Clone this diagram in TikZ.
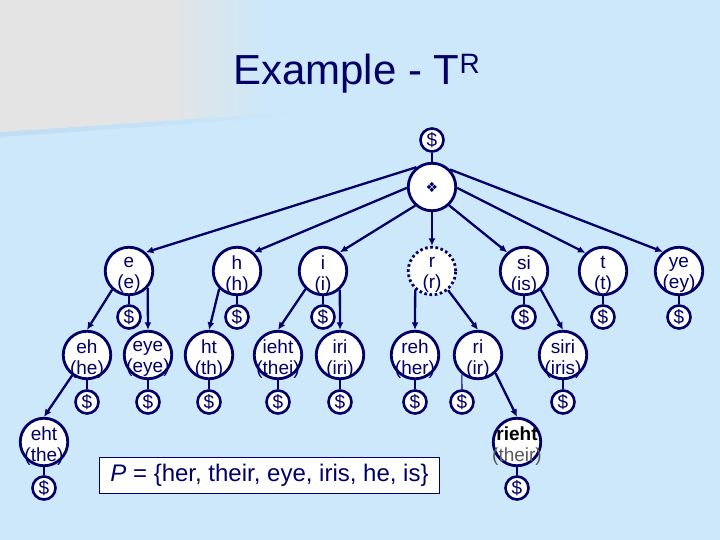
\documentclass[tikz,border=0pt]{standalone}
\usepackage{fontspec}
\setmainfont{Liberation Sans}
\newfontfamily\symfont{DejaVu Sans}
\usetikzlibrary{arrows.meta}
\definecolor{bg}{RGB}{204,232,250}
\definecolor{topgray}{RGB}{228,228,228}
\definecolor{navy}{RGB}{0,0,102}
\definecolor{bandblue}{RGB}{190,220,243}
\definecolor{midgray}{RGB}{90,90,90}
\begin{document}
\begin{tikzpicture}[x=1pt,y=-1pt,
  tnode/.style={circle,draw=navy,fill=white,line width=2.8pt,minimum size=47.5pt,inner sep=0pt},
  dnode/.style={circle,draw=navy,fill=white,line width=2.6pt,minimum size=23pt,inner sep=0pt,text=navy,font=\fontsize{19}{19}\selectfont},
  lbl/.style={text=navy,align=center,font=\fontsize{19}{21}\selectfont,inner sep=0pt,yshift=-4pt},
  edge/.style={draw=navy,line width=2.3pt,-{Latex[length=7.5pt,width=7pt]}},
  dline/.style={draw=navy,line width=1.1pt},
]
\useasboundingbox (0,0) rectangle (720,540);
% background
\fill[bg] (0,0) rectangle (720,540);
\shade[left color=bandblue,right color=bg] (0,132) -- (300,111.6) -- (300,116) -- (0,137) -- cycle;
\fill[topgray] (0,0) -- (170,0) -- (170,120.4) -- (0,132) -- cycle;
\shade[left color=topgray,right color=bg] (170,0) -- (270,0) -- (270,113.6) -- (170,120.4) -- cycle;
% title
\node[anchor=base west,inner sep=0pt,text=navy,font=\fontsize{42}{42}\selectfont] (title) at (233,85)
  {Example - T\raisebox{11pt}{\fontsize{28}{28}\selectfont R}};
% root
\node[dnode] (rd) at (432,140) {\$};
\node[tnode] (root) at (432,187) {};
\node[text=navy,inner sep=0pt,font=\symfont\fontsize{14}{14}\selectfont] (rsym) at (root) {❖};
% level 1
\node[tnode,label={[lbl]center:{e\\(e)}}] (e) at (129,271) {};
\node[tnode,label={[lbl]center:{h\\(h)}}] (h) at (237,271) {};
\node[tnode,label={[lbl]center:{i\\(i)}}] (i) at (323,271) {};
\node[tnode,dash pattern=on 2.6pt off 2.6pt,label={[lbl]center:{r\\(r)}}] (r) at (432,271) {};
\node[tnode,label={[lbl]center:{si\\(is)}}] (si) at (524,271) {};
\node[tnode,label={[lbl]center:{t\\(t)}}] (t) at (603,271) {};
\node[tnode,label={[lbl]center:{ye\\(ey)}}] (ye) at (679,271) {};
\node[dnode] (ed) at (129,317) {\$};
\node[dnode] (hd) at (237,317) {\$};
\node[dnode] (id) at (323,317) {\$};
\node[dnode] (sid) at (524,317) {\$};
\node[dnode] (td) at (603,317) {\$};
\node[dnode] (yed) at (679,317) {\$};
% level 2
\node[tnode,label={[lbl]center:{eh\\(he)}}] (eh) at (87,355) {};
\node[tnode,label={[lbl]center:{eye\\(eye)}}] (eye) at (148,355) {};
\node[tnode,label={[lbl]center:{ht\\(th)}}] (ht) at (209,355) {};
\node[tnode,label={[lbl]center:{ieht\\(thei)}}] (ieht) at (278,355) {};
\node[tnode,label={[lbl]center:{iri\\(iri)}}] (iri) at (340,355) {};
\node[tnode,label={[lbl]center:{reh\\(her)}}] (reh) at (415,355) {};
\node[tnode,label={[lbl]center:{ri\\(ir)}}] (ri) at (478,355) {};
\node[tnode,label={[lbl]center:{siri\\(iris)}}] (siri) at (563,355) {};
\node[dnode] (ehd) at (87,402) {\$};
\node[dnode] (eyed) at (148,402) {\$};
\node[dnode] (htd) at (209,402) {\$};
\node[dnode] (iehtd) at (278,402) {\$};
\node[dnode] (irid) at (340,402) {\$};
\node[dnode] (rehd) at (415,402) {\$};
\node[dnode] (rid) at (462,402) {\$};
\node[dnode] (sirid) at (563,402) {\$};
% level 3
\node[tnode,label={[lbl]center:{eht\\(the)}}] (eht) at (44,442) {};
\node[tnode,label={[lbl,text=black]center:{\textbf{rieht}\\\textcolor{midgray}{(their)}}}] (rieht) at (517,442) {};
\node[dnode] (ehtd) at (44,488) {\$};
\node[dnode] (riehtd) at (517,488) {\$};
% pattern set box
\node[draw=navy,fill=white,line width=1pt,minimum width=340pt,minimum height=36pt,inner sep=0pt,
  text=navy,font=\fontsize{24}{24}\selectfont] (pset) at (269.5,475)
  {{\itshape P} = \{her, their, eye, iris, he, is\}};
% edges from root
\draw[edge] (root.128) -- (e.48);
\draw[edge] (root.182) -- (h.48);
\draw[edge] (root.228) -- (i.48);
\draw[edge] (root.270) -- (r.90);
\draw[edge] (root.313) -- (si.132);
\draw[edge] (root.358) -- (t.134);
\draw[edge] (root.44) -- (ye.130);
% level 1 -> 2
\draw[edge] (e.228) -- (eh.90);
\draw[edge] (e.318) -- (eye.90);
\draw[edge] (h.225) -- (ht.90);
\draw[edge] (i.226) -- (ieht.90);
\draw[edge] (i.312) -- (iri.90);
\draw[edge] (r.228) -- (reh.90);
\draw[edge] (r.310) -- (ri.90);
\draw[edge] (si.312) -- (siri.90);
% level 2 -> 3
\draw[edge] (eh.234) -- (eht.90);
\draw[edge] (ri.314) -- (rieht.90);
% $ lines
\draw[dline] (rd.south) -- (root.north);
\draw[dline] (e.south) -- (ed.north);
\draw[dline] (h.south) -- (hd.north);
\draw[dline] (i.south) -- (id.north);
\draw[dline] (si.south) -- (sid.north);
\draw[dline] (t.south) -- (td.north);
\draw[dline] (ye.south) -- (yed.north);
\draw[dline] (eh.south) -- (ehd.north);
\draw[dline] (eye.south) -- (eyed.north);
\draw[dline] (ht.south) -- (htd.north);
\draw[dline] (ieht.south) -- (iehtd.north);
\draw[dline] (iri.south) -- (irid.north);
\draw[dline] (reh.south) -- (rehd.north);
\draw[dline] (ri.230) -- (rid.north);
\draw[dline] (siri.south) -- (sirid.north);
\draw[dline] (eht.south) -- (ehtd.north);
\draw[dline] (rieht.south) -- (riehtd.north);
\end{tikzpicture}
\end{document}
